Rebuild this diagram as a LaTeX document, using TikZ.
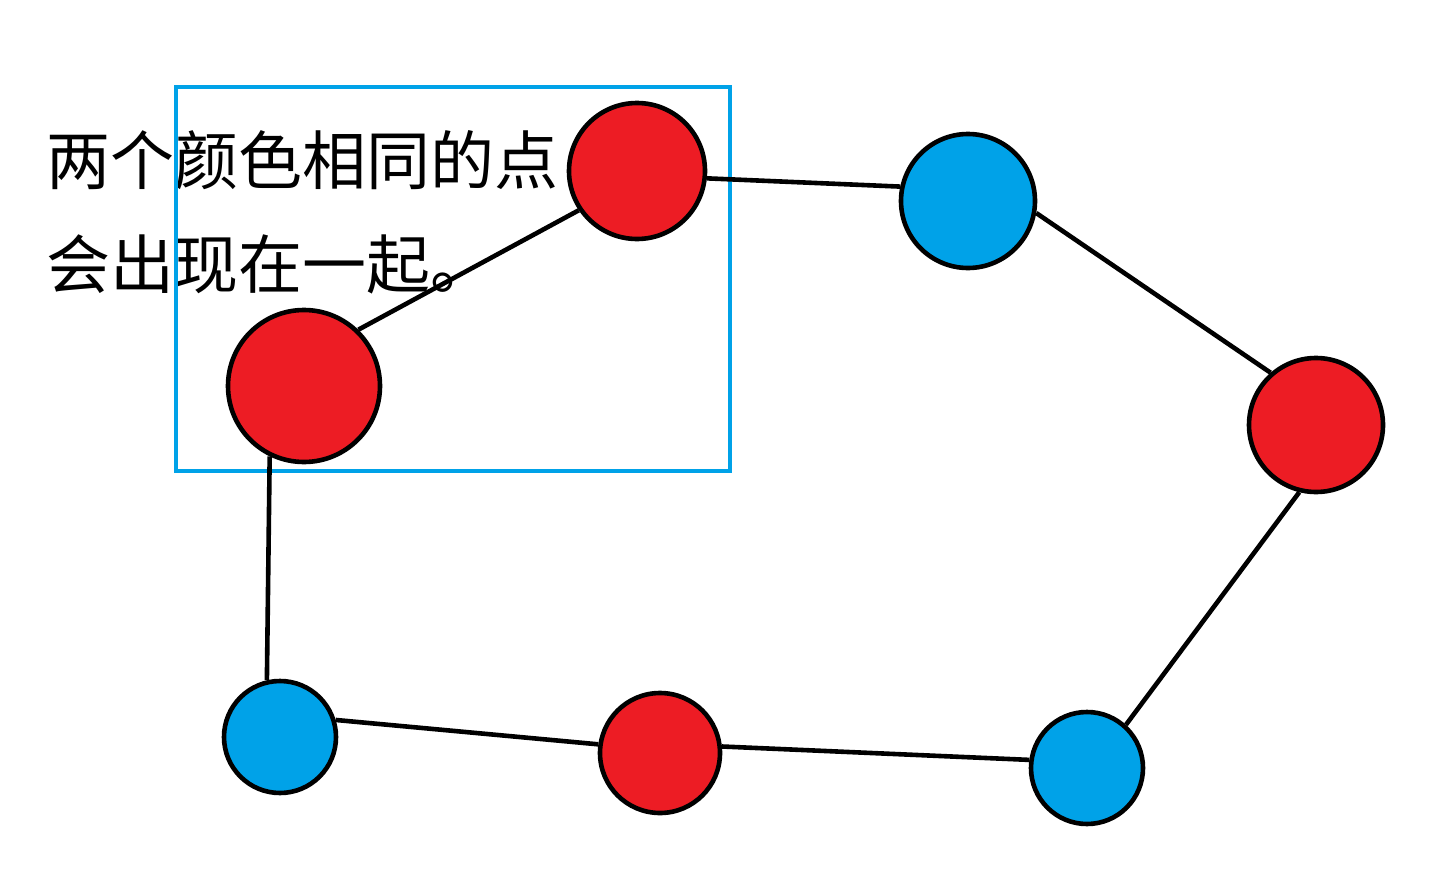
\documentclass[tikz,border=0pt]{standalone}
\usepackage{fontspec}
\newfontfamily\cjk{Noto Sans CJK SC}
\definecolor{pred}{HTML}{ED1C24}
\definecolor{pblue}{HTML}{00A2E8}
\tikzset{
  redpt/.style={circle, draw, line width=2.3pt, fill=pred, inner sep=0pt, minimum size=#1},
  bluept/.style={circle, draw, line width=2.3pt, fill=pblue, inner sep=0pt, minimum size=#1},
  link/.style={line width=2.3pt},
  note/.style={anchor=west, inner sep=0pt, font=\cjk\fontsize{32pt}{36pt}\selectfont}
}
\begin{document}
\begin{tikzpicture}[x=0.5pt, y=-0.5pt]
\useasboundingbox (0,0) rectangle (1446,894);
% Text
\node[note] (t1) at (46,160) {两个颜色相同的点};
\node[note] (t2) at (46,264) {会出现在一起。};
% Frame round the two red points
\draw[pblue, line width=2pt] (176,87) rectangle (730,471);
% Points of the cycle
\node[redpt=68pt]  (r1) at (637,171) {};
\node[bluept=67pt] (b1) at (968,201) {};
\node[redpt=67pt]  (r2) at (1316,425) {};
\node[bluept=56pt] (b2) at (1087,768) {};
\node[redpt=60pt]  (r3) at (660,753) {};
\node[bluept=56pt] (b3) at (280,737) {};
\node[redpt=76pt]  (r4) at (304,386) {};
% Edges
\draw[link] (r4.46) -- (r1.214);
\draw[link] (r1.-6) -- (b1.168);
\draw[link] (b1.-10) -- (r2.131);
\draw[link] (r2.-104) -- (b2.48);
\draw[link] (b2.172) -- (r3.6);
\draw[link] (r3.172) -- (b3.17);
\draw[link] (b3.103) -- (r4.-116);
\end{tikzpicture}
\end{document}
